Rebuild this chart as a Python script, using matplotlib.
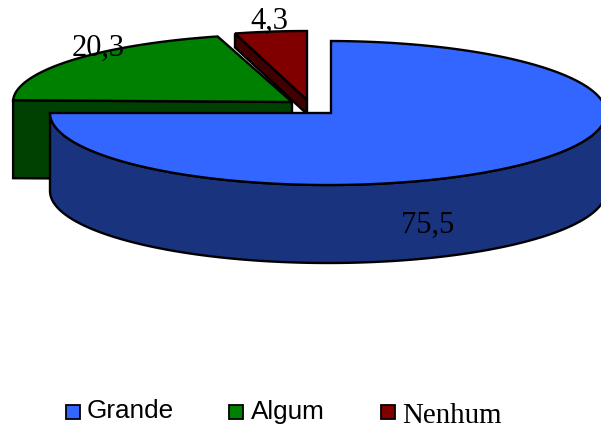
import numpy as np
import matplotlib
matplotlib.use("Agg")
import matplotlib.pyplot as plt
from matplotlib.patches import Polygon, Rectangle

categories = ["Grande", "Algum", "Nenhum"]
values = [75.5, 20.3, 4.3]
value_labels = ["75,5", "20,3", "4,3"]

top_colors = ["#3366FF", "#008000", "#800000"]
side_colors = ["#1A337F", "#004000", "#400000"]

# apex x, apex y, ellipse centre x, ellipse radius x, ellipse radius y, depth
geom = [(331, 113, 328, 278, 72, 78),
        (292, 102, 292, 279, 68, 78),
        (307, 100, 307, 270, 69, 14)]
label_pos = [(428, 225), (98, 48), (269, 21)]
legend_x = [66, 229, 381]
legend_text_x = [87, 251, 402]

fig = plt.figure(figsize=(6.01, 4.28), dpi=100)
ax = fig.add_axes([0, 0, 1, 1])
ax.set_xlim(0, 601)
ax.set_ylim(428, 0)
ax.axis("off")

sweeps = np.array(values) / sum(values) * 360
ends = 90 - np.cumsum(sweeps)
starts = ends + sweeps


def arc(cx, cy, rx, ry, a0, a1):
    t = np.radians(np.linspace(a0, a1, 200))
    return np.column_stack([cx + rx * np.cos(t), cy - ry * np.sin(t)])


lw = 1.7
# desenha de tras para frente: vermelho, verde, azul
for i in [2, 1, 0]:
    ax_, ay, cx, rx, ry, depth = geom[i]
    a0, a1 = starts[i], ends[i]
    apex = np.array([[ax_, ay]])
    if i == 0:
        # o corte do azul fica na horizontal e a borda de cima na vertical
        a0 = np.degrees(np.arccos((ax_ - cx) / rx))
        a1 = max(a1, -180)
        edge = arc(cx, ay, rx, ry, a0, a1)
        front = arc(cx, ay, rx, ry, a1, 0)
        pts = np.vstack([front, (front + [0, depth])[::-1]])
    else:
        a0 = min(a0, 180)
        edge = arc(cx, ay, rx, ry, a0, a1)
        # face de corte, o lado esquerdo da fatia
        pts = np.vstack([edge[:1], apex, apex + [0, depth], edge[:1] + [0, depth]])
    ax.add_patch(Polygon(pts, closed=True, fc=side_colors[i], ec="black", lw=lw))
    ax.add_patch(Polygon(np.vstack([apex, edge]), closed=True, fc=top_colors[i], ec="black", lw=lw))

for lab, (x, y) in zip(value_labels, label_pos):
    ax.text(x, y, lab, family="Liberation Serif", fontsize=22, color="black",
            ha="center", va="center", zorder=5)

for i, name in enumerate(categories):
    ax.add_patch(Rectangle((legend_x[i], 405), 14, 14, fc=top_colors[i], ec="black", lw=1.3))
    if name == "Nenhum":
        ax.text(legend_text_x[i], 416, name, family="Liberation Serif", fontsize=20.8,
                ha="left", va="center")
    else:
        ax.text(legend_text_x[i], 411.5, name, family="Liberation Sans", fontsize=18.8,
                ha="left", va="center")

fig.savefig("out.png", dpi=100)
